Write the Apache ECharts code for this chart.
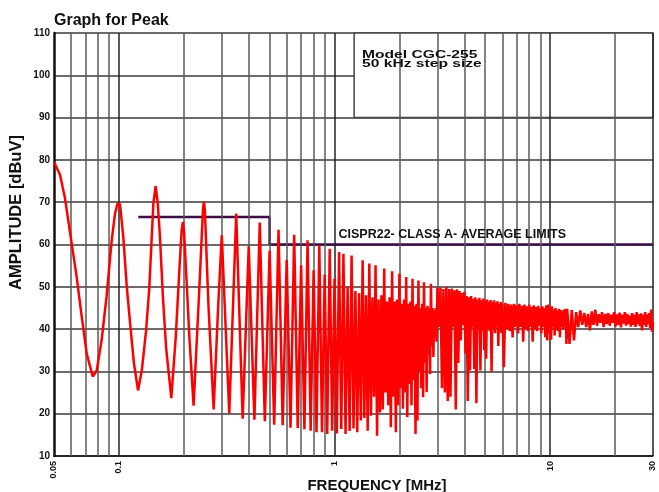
<!DOCTYPE html>
<html>
<head>
<meta charset="utf-8">
<script src="https://cdn.jsdelivr.net/npm/echarts@6/dist/echarts.min.js"></script>
<style>
    html, body { margin: 0; padding: 0; background: #fff; }
    #chart { width: 659px; height: 492px; }
</style>
</head>
<body>
<div id="chart"></div>
<script>
// low end of the sweep, read point by point (MHz / dBuV)
const lowFreq = [0.05, 0.0533, 0.0562, 0.0593, 0.0637, 0.0672, 0.0709, 0.0756, 0.0789, 0.0831,
    0.0876, 0.0926, 0.096, 0.0987, 0.1012, 0.1048, 0.1088, 0.1135, 0.1175, 0.1227,
    0.1277, 0.1337, 0.1384, 0.142, 0.1445, 0.148, 0.1515, 0.155, 0.16, 0.1655,
    0.175, 0.1835, 0.1907, 0.1955, 0.198, 0.2005, 0.2048, 0.2122, 0.222, 0.2362,
    0.2455, 0.248, 0.2505, 0.26, 0.275, 0.289];
const lowAmp = [79.5, 76.5, 71.0, 63.0, 52.3, 43.0, 34.2, 28.8, 30.2, 37.3,
    47.6, 61.0, 67.4, 69.8, 69.5, 61.8, 49.9, 39.7, 31.8, 25.5,
    30.2, 39.7, 49.9, 61.8, 69.7, 73.8, 69.7, 61.8, 47.6, 35.7,
    23.7, 38.1, 53.9, 63.5, 65.3, 63.0, 53.9, 38.1, 21.9, 49.9,
    68.5, 70.1, 68.0, 46.0, 21.0, 46.0];

// 0.3 .. 3.0 MHz, peak / trough every 25 kHz
const sweepStart = 0.3, sweepStep = 0.025;
const sweepAmp = [
    62.2, 20.0, 67.3, 18.8, 59.6, 18.6, 65.2, 18.2,
    58.5, 17.4, 63.5, 17.3, 56.4, 16.7, 62.3, 16.6,
    55.1, 16.3, 61.0, 16.0, 53.9, 15.6, 59.8, 15.6,
    52.9, 15.2, 59.0, 16.0, 51.9, 15.3, 58.2, 16.4,
    57.8, 15.2, 50.0, 15.9, 57.4, 16.5, 49.0, 15.6,
    48.5, 18.4, 56.3, 19.0, 48.0, 16.0, 55.5, 19.5,
    47.5, 24.0, 55.1, 14.8, 47.0, 20.3, 48.0, 21.0,
    54.3, 25.0, 46.5, 22.0, 47.5, 16.8, 53.7, 24.0,
    46.5, 15.6, 47.0, 22.0, 53.1, 26.0, 46.0, 21.2,
    47.0, 25.0, 52.3, 19.2, 46.0, 27.0, 46.5, 22.0,
    51.9, 28.0, 45.5, 15.2, 46.0, 18.4, 51.5, 30.0,
    45.0, 26.0, 46.0, 23.9, 51.1, 32.0, 45.0, 25.1,
    45.5, 34.0, 45.0, 29.4, 50.7, 36.0, 45.0, 33.4,
    44.5, 38.0, 45.0, 37.0, 49.9
];

// upper range, thinned to what the picture resolves
const hf1Start = 3.05, hf1Step = 0.05;
const hf1Amp = [
    40.5, 49.8, 26.0, 49.5, 25.0, 50.0, 23.0, 49.5, 24.0, 49.6,
    40.5, 49.2, 21.0, 49.4, 32.0, 49.0, 37.3, 48.5, 41.0, 48.8,
    34.2, 47.8, 23.0, 47.5, 30.2, 47.8, 40.5, 47.2, 30.6, 47.5,
    22.5, 47.0, 40.0, 47.4, 30.2, 46.8, 39.5, 47.2, 35.0, 46.8,
    33.0, 47.0, 40.0, 46.5, 39.5, 46.9, 30.0, 46.4, 40.0, 46.8,
    39.0, 46.2, 40.5, 46.6, 36.0, 46.0, 39.5, 46.4, 39.0, 46.0
];
const hf2Start = 6.1, hf2Step = 0.1;
const hf2Amp = [
    31.0, 46.2, 40.0, 46.0, 39.5, 45.8, 38.0, 46.0, 40.5, 45.6,
    39.0, 46.0, 40.5, 45.5, 37.0, 45.8, 40.0, 45.4, 39.5, 45.8,
    40.5, 45.3, 37.0, 45.6, 40.0, 45.2, 39.5, 45.5, 40.8, 45.0,
    39.0, 45.4, 40.5, 45.0, 38.0, 45.6, 37.3, 45.8, 39.0, 45.0,
    37.5, 45.4, 40.5, 44.6, 38.5, 45.0, 40.0, 44.4, 39.5, 44.8,
    38.1, 44.5, 40.5, 44.2, 40.0, 44.6, 40.8, 44.8, 36.5, 44.8
];
const hf3Start = 12.3, hf3Step = 0.3;
const hf3Amp = [
    36.5, 44.5, 37.3, 44.0, 40.5, 44.4, 41.0, 43.8, 40.5, 43.6,
    39.7, 44.2, 41.0, 44.6, 40.8, 43.5, 41.5, 44.0, 40.5, 43.6,
    41.2, 43.8, 40.8, 43.4, 41.5, 44.0, 40.6, 43.5, 41.0, 43.9,
    40.4, 43.4, 41.3, 44.0, 40.8, 43.6, 41.2, 43.2, 40.6, 43.8,
    41.0, 43.4, 40.5, 44.0, 41.2, 43.5, 40.7, 43.7, 39.7, 43.4,
    41.0, 44.0, 40.5, 43.5, 41.2, 43.8, 40.2, 44.6, 39.4, 41.5
];

// CISPR22 class A average limit as drawn
const limitFreq = [0.123, 0.5, 0.5, 30];
const limitAmp = [66.5, 66.5, 60, 60];

// vertical grid of the log axis
const decadeFreq = [0.1, 1, 10, 30];
const gridFreq = [0.06, 0.07, 0.08, 0.09, 0.2, 0.3, 0.4, 0.5, 0.6, 0.7, 0.8, 0.9,
    2, 3, 4, 5, 6, 7, 8, 9, 20];

const noteBox = [1.233, 90, 30, 110];

function stepped(start, step, amps) {
    return amps.map((a, i) => [+(start + i * step).toFixed(3), a]);
}

let peakData = lowFreq.map((f, i) => [f, lowAmp[i]])
    .concat(stepped(sweepStart, sweepStep, sweepAmp))
    .concat(stepped(hf1Start, hf1Step, hf1Amp))
    .concat(stepped(hf2Start, hf2Step, hf2Amp))
    .concat(stepped(hf3Start, hf3Step, hf3Amp));

let limitData = limitFreq.map((f, i) => [f, limitAmp[i]]);

let gridLines = gridFreq.map(f => ({ xAxis: f }))
    .concat(decadeFreq.map(f => ({ xAxis: f, lineStyle: { color: '#222' } })));

const font = '"Liberation Sans", Arial, sans-serif';

let myChart = echarts.init(document.getElementById('chart'));
let option = {
    animation: false,
    backgroundColor: '#fff',
    title: {
        text: 'Graph for Peak',
        left: 49,
        top: 8,
        textStyle: { fontFamily: font, fontWeight: 'bold', fontSize: 16, color: '#111' }
    },
    // the note in the box is set in a wide face, so it is stretched
    graphic: [{
        type: 'text',
        x: 362,
        y: 50,
        scaleX: 1.42,
        z: 100,
        silent: true,
        style: {
            text: 'Model CGC-255\n50 kHz step size',
            font: 'bold 11px "Liberation Sans", Arial, sans-serif',
            lineHeight: 9.2,
            fill: '#111'
        }
    }],
    grid: { left: 54, right: 6, top: 33, bottom: 36, outerBoundsMode: 'none', containLabel: false },
    xAxis: {
        type: 'log',
        logBase: 10,
        min: 0.05,
        max: 30,
        name: 'FREQUENCY [MHz]',
        nameLocation: 'middle',
        nameGap: 22,
        nameMoveOverlap: false,
        nameTextStyle: {
            fontFamily: font, fontWeight: 'bold', fontSize: 15, color: '#111',
            padding: [0, 0, 0, 47]
        },
        axisLine: { lineStyle: { color: '#111', width: 1.5 } },
        axisTick: { show: false },
        axisLabel: {
            rotate: 90,
            margin: 5,
            fontFamily: font, fontWeight: 'bold', fontSize: 9, color: '#111',
            formatter: v => String(+(+v).toPrecision(3))
        },
        splitLine: { show: false }
    },
    yAxis: {
        type: 'value',
        min: 10,
        max: 110,
        interval: 10,
        name: 'AMPLITUDE [dBuV]',
        nameLocation: 'middle',
        nameGap: 29,
        nameMoveOverlap: false,
        nameTextStyle: {
            fontFamily: font, fontWeight: 'bold', fontSize: 16.5, color: '#111',
            padding: [0, 0, 0, 64]
        },
        axisLine: { show: true, lineStyle: { color: '#111', width: 2.5 } },
        axisTick: { show: false },
        axisLabel: { margin: 4, fontFamily: font, fontWeight: 'bold', fontSize: 10, color: '#111' },
        splitLine: { show: true, lineStyle: { color: '#3a3a3a', width: 1.5 } }
    },
    series: [
        {
            name: 'grid',
            type: 'line',
            data: [],
            silent: true,
            z: 1,
            markLine: {
                silent: true,
                symbol: 'none',
                label: { show: false },
                lineStyle: { color: '#5a5a5a', width: 1.5, type: 'solid' },
                data: gridLines
            }
        },
        {
            name: 'note',
            type: 'line',
            data: [],
            silent: true,
            z: 3,
            markArea: {
                silent: true,
                itemStyle: { color: '#fff', opacity: 1, borderColor: '#444', borderWidth: 1.5 },
                label: { show: false },
                data: [[{ xAxis: noteBox[0], yAxis: noteBox[1] }, { xAxis: noteBox[2], yAxis: noteBox[3] }]]
            }
        },
        {
            name: 'limit',
            type: 'line',
            data: limitData,
            symbol: 'none',
            silent: true,
            z: 4,
            lineStyle: { color: '#3e0c48', width: 2.5 },
            markPoint: {
                symbol: 'circle',
                symbolSize: 0,
                label: {
                    show: true,
                    position: 'right',
                    distance: 4,
                    formatter: 'CISPR22- CLASS A- AVERAGE LIMITS',
                    fontFamily: font, fontWeight: 'bold', fontSize: 12.5, color: '#111'
                },
                data: [{ coord: [1.0, 62.3] }]
            }
        },
        {
            name: 'peak',
            type: 'line',
            data: peakData,
            symbol: 'none',
            silent: true,
            z: 5,
            lineStyle: { color: '#ff0000', width: 2.5 }
        }
    ]
};

myChart.setOption(option);
</script>
</body>
</html>
